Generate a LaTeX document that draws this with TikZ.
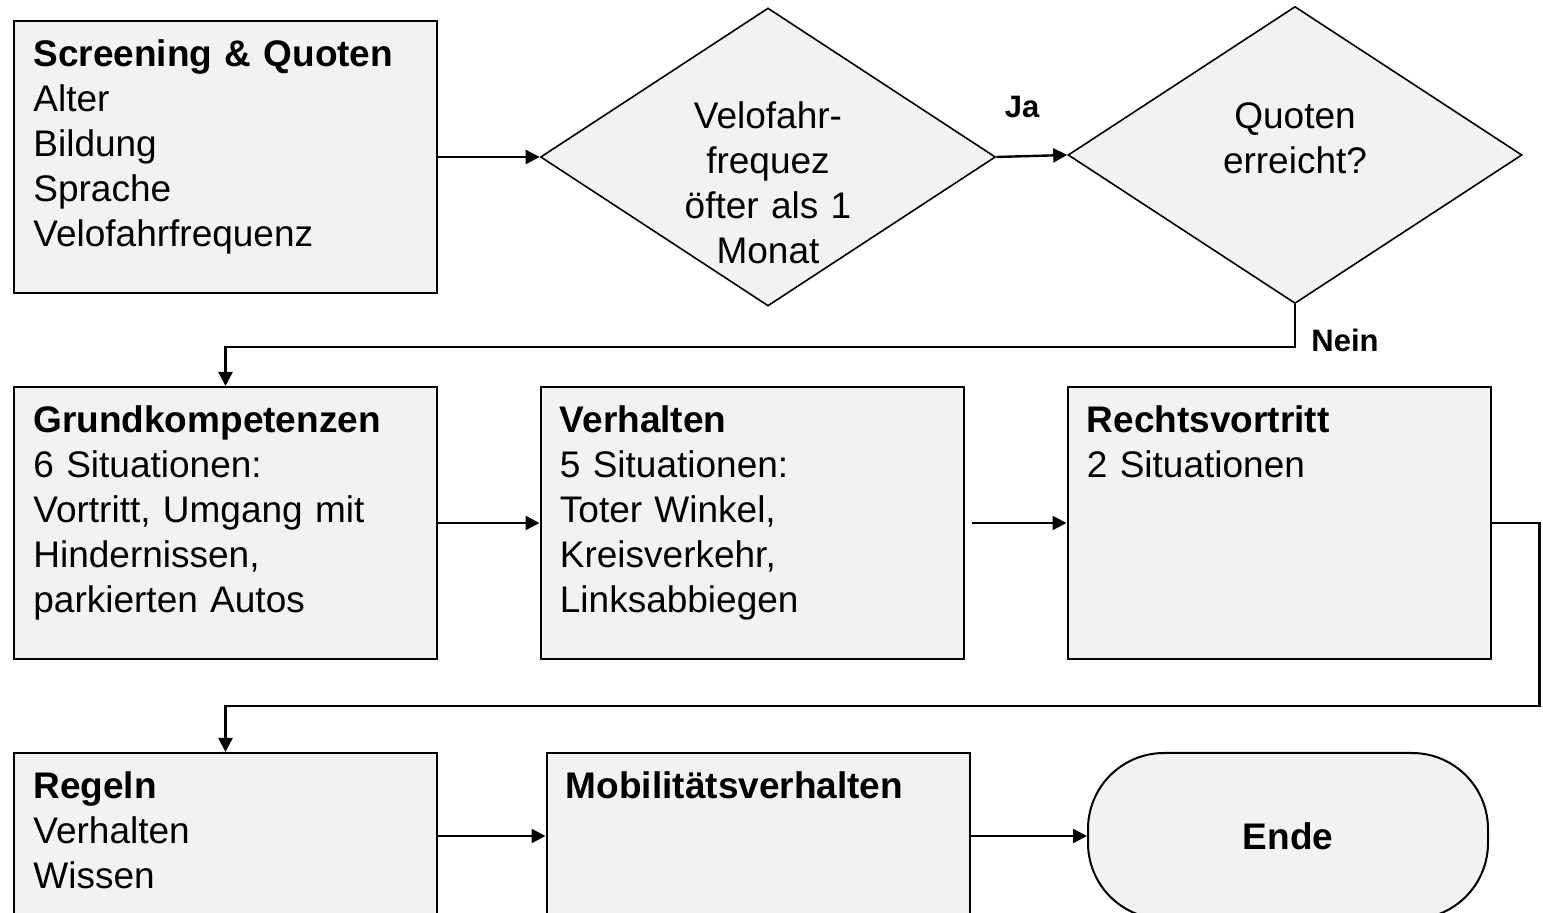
\documentclass[tikz,border=0pt]{standalone}
\usepackage{fontspec}
\setmainfont{Liberation Sans}
\usetikzlibrary{shapes.geometric,arrows.meta}
\definecolor{boxgray}{HTML}{F2F2F2}

\begin{document}
\begin{tikzpicture}[x=0.5pt,y=-0.5pt,
  box/.style={draw, line width=1pt, fill=boxgray, minimum width=211.5pt, minimum height=136pt, inner sep=0pt},
  dia/.style={draw, diamond, line width=0.8pt, fill=boxgray, inner sep=0pt},
  txt/.style={anchor=base west, inner sep=0pt, text width=200pt, align=left, font=\fontsize{18.5}{22.5}\selectfont},
  dtxt/.style={anchor=base, inner sep=0pt, text width=160pt, align=center, font=\fontsize{18.5}{22.5}\selectfont},
  lbl/.style={font=\fontsize{15.5}{18}\selectfont\bfseries, inner sep=0pt},
  arr/.style={line width=1.2pt, -{Triangle[length=7pt,width=7pt]}}]
\useasboundingbox (0,0) rectangle (1543,913);
\clip (0,0) rectangle (1543,913);

% first row
\node[box] (screen) at (225.5,157) {};
\node[txt] (screen-t) at ([shift={(20,47)}]screen.north west) {\textbf{Screening \& Quoten}\\Alter\\Bildung\\Sprache\\Velofahrfrequenz};
\node[dia, minimum width=227.5pt, minimum height=149pt] (velo) at (768,157) {};
\node[dtxt] (velo-t) at (768,129) {Velofahr-\\frequez\\öfter als 1\\Monat};
\node[dia, minimum width=227pt, minimum height=148.5pt] (quot) at (1295,155) {};
\node[dtxt] (quot-t) at (1295,129) {Quoten\\erreicht?};
\node[lbl] (ja) at (1022,107) {Ja};
\node[lbl] (nein) at (1345,340) {Nein};

% second row
\node[box] (grund) at (225.5,523) {};
\node[txt] (grund-t) at ([shift={(20,47)}]grund.north west) {\textbf{Grundkompetenzen}\\6 Situationen:\\Vortritt, Umgang mit\\Hindernissen,\\parkierten Autos};
\node[box] (verh) at (752,523) {};
\node[txt] (verh-t) at ([shift={(20,47)}]verh.north west) {\textbf{Verhalten}\\5 Situationen:\\Toter Winkel,\\Kreisverkehr,\\Linksabbiegen};
\node[box] (rechts) at (1279,523) {};
\node[txt] (rechts-t) at ([shift={(20,47)}]rechts.north west) {\textbf{Rechtsvortritt}\\2 Situationen};

% third row
\node[box] (regeln) at (225.5,889) {};
\node[txt] (regeln-t) at ([shift={(20,47)}]regeln.north west) {\textbf{Regeln}\\Verhalten\\Wissen};
\node[box] (mob) at (758,889) {};
\node[txt] (mob-t) at ([shift={(20,47)}]mob.north west) {\textbf{Mobilitätsverhalten}};
\node[draw, line width=1pt, fill=boxgray, rounded corners=38pt, minimum width=200pt, minimum height=83pt, font=\fontsize{18.5}{22.5}\selectfont\bfseries] (ende) at (1288,836) {Ende};

% connectors
\draw[arr] (screen.east) -- (velo.west);
\draw[arr] (velo.east) -- (quot.west);
\draw[arr] (quot.south) -- ++(0,43) -| (grund.north);
\draw[arr] (grund.east) -- (verh.west);
\draw[arr] ([xshift=3.5pt]verh.east) -- (rechts.west);
\draw[arr] (rechts.east) -| ++(48,183) -| (regeln.north);
\draw[arr] (regeln.east |- ende.west) -- (mob.west |- ende.west);
\draw[arr] (mob.east |- ende.west) -- (ende.west);
\end{tikzpicture}
\end{document}
